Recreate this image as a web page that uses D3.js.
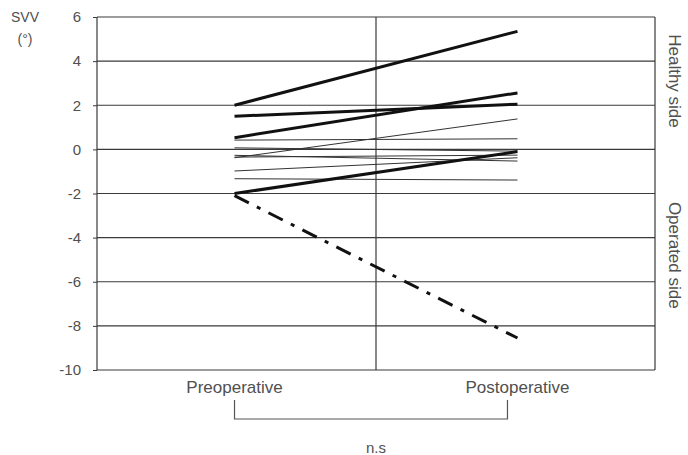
<!DOCTYPE html>
<html><head><meta charset="utf-8">
<script src="https://cdn.jsdelivr.net/npm/d3@7"></script>
<style>body{margin:0;background:#fff}svg{display:block}text{font-family:"Liberation Sans",Arial,sans-serif;fill:#505050}</style>
</head><body>
<svg id="c" width="688" height="455"></svg>
<script>
const categories = ["Preoperative", "Postoperative"];
const yTicks = [6, 4, 2, 0, -2, -4, -6, -8, -10];
const thickPre  = [2.0, 1.5, 0.53, -2.0];
const thickPost = [5.35, 2.05, 2.56, -0.1];
const thinPre   = [-0.38, 0.42, 0.07, -0.27, -0.35, -0.98, -1.33];
const thinPost  = [1.38, 0.48, -0.08, -0.53, -0.26, -0.38, -1.39];
const dashedPre  = [-2.1];
const dashedPost = [-8.55];
const yLabel = ["SVV", "(°)"];
const sideLabels = ["Healthy side", "Operated side"];
const sigLabel = "n.s";

const svg = d3.select("#c");
const L = 97, R = 655, T = 17, B = 370;
const x = d3.scalePoint().domain(categories).range([L, R]).padding(0.486);
const y = d3.scaleLinear().domain([-10, 6]).range([B, T]);

// grid
svg.append("g").selectAll("line").data(yTicks).join("line")
  .attr("x1", L).attr("x2", R).attr("y1", d => y(d)).attr("y2", d => y(d))
  .attr("stroke", "#3a3a3a").attr("stroke-width", 1.2);
svg.append("line").attr("x1", L).attr("x2", L).attr("y1", T).attr("y2", B).attr("stroke", "#3a3a3a").attr("stroke-width", 1.2);
svg.append("line").attr("x1", R).attr("x2", R).attr("y1", T).attr("y2", B).attr("stroke", "#3a3a3a").attr("stroke-width", 1.2);
svg.append("line").attr("x1", (L + R) / 2).attr("x2", (L + R) / 2).attr("y1", T).attr("y2", B).attr("stroke", "#3a3a3a").attr("stroke-width", 1.2);

// y axis
const yAxis = d3.axisLeft(y).tickValues(yTicks).tickSize(4).tickPadding(12).tickFormat(d => String(d));
const ga = svg.append("g").attr("transform", `translate(${L},0)`).call(yAxis);
ga.select(".domain").remove();
ga.selectAll(".tick line").attr("stroke", "#3a3a3a");
ga.selectAll(".tick text").style("font-size", "15px").attr("fill", "#505050").attr("font-family", "Liberation Sans, Arial, sans-serif");

// axis title
svg.append("text").attr("x", 25).attr("y", 22).attr("text-anchor", "middle").style("font-size", "14px").text(yLabel[0]);
svg.append("text").attr("x", 25).attr("y", 44).attr("text-anchor", "middle").style("font-size", "14px").text(yLabel[1]);

// series
const line = (a, b) => [[x(categories[0]), y(a)], [x(categories[1]), y(b)]];
const g = svg.append("g");
g.selectAll(".thin").data(thinPre.map((v, i) => line(v, thinPost[i]))).join("path")
  .attr("d", d3.line()).attr("fill", "none").attr("stroke", "#333").attr("stroke-width", 1);
g.selectAll(".thick").data(thickPre.map((v, i) => line(v, thickPost[i]))).join("path")
  .attr("d", d3.line()).attr("fill", "none").attr("stroke", "#111").attr("stroke-width", 3);
g.selectAll(".dash").data(dashedPre.map((v, i) => line(v, dashedPost[i]))).join("path")
  .attr("d", d3.line()).attr("fill", "none").attr("stroke", "#111").attr("stroke-width", 3)
  .attr("stroke-dasharray", "16,9,4,9");

// category labels
svg.selectAll(".cat").data(categories).join("text")
  .attr("x", d => x(d)).attr("y", 393).attr("text-anchor", "middle").style("font-size", "17px").text(d => d);

// bracket
const bx1 = x(categories[0]), bx2 = x(categories[1]) - 10;
svg.append("path").attr("d", d3.line()([[bx1, 400], [bx1, 419], [bx2, 419], [bx2, 400]]))
  .attr("fill", "none").attr("stroke", "#555").attr("stroke-width", 1.2);
svg.append("text").attr("x", (L + R) / 2).attr("y", 453).attr("text-anchor", "middle").style("font-size", "15px").text(sigLabel);

// side labels
svg.append("text").attr("transform", `translate(669,${y(3.1)}) rotate(90)`).attr("text-anchor", "middle").style("font-size", "17px").text(sideLabels[0]);
svg.append("text").attr("transform", `translate(669,${y(-4.8)}) rotate(90)`).attr("text-anchor", "middle").style("font-size", "17px").text(sideLabels[1]);
</script>
</body></html>
